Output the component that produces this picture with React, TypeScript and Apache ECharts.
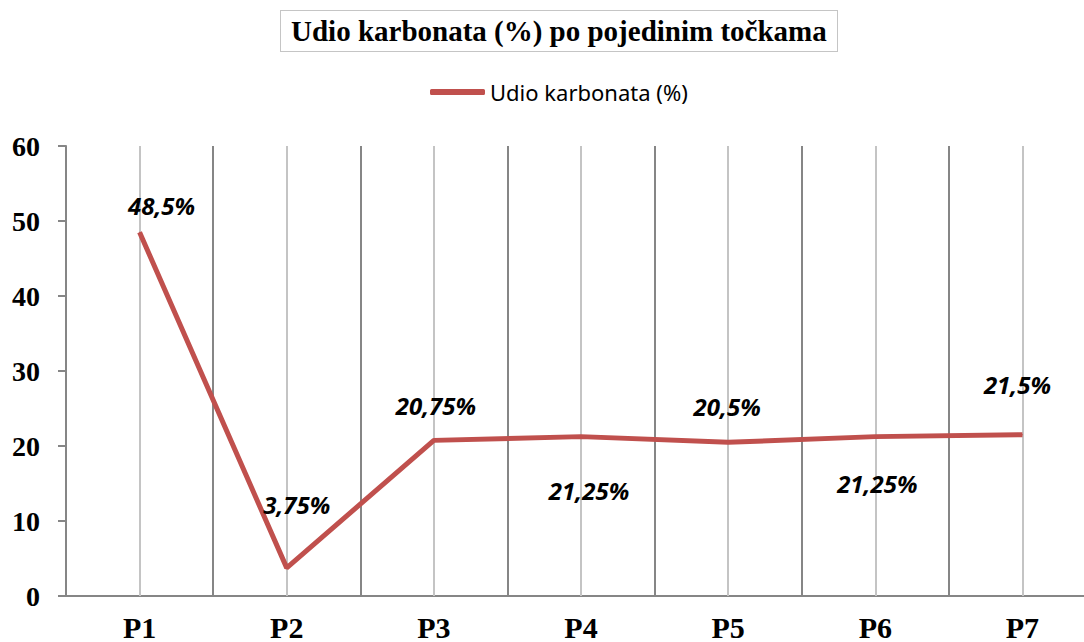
import React, { useEffect, useRef } from "react";
import * as echarts from "echarts";

const categories = ["P1", "P2", "P3", "P4", "P5", "P6", "P7"];
const values = [48.5, 3.75, 20.75, 21.25, 20.5, 21.25, 21.5];
const labelOffsets: [number, number][] = [
  [22, -27],
  [10, -63],
  [2, -35],
  [8, 54],
  [-1, -36],
  [2, 47],
  [-5, -50],
];
const seriesName = "Udio karbonata (%)";
const titleText = "Udio karbonata (%) po pojedinim točkama";

export default function App() {
  const ref = useRef<HTMLDivElement>(null);
  useEffect(() => {
    if (!ref.current) return;
    const chart = echarts.init(ref.current, null, { renderer: "svg" });
    const serif = "'Liberation Serif', 'Times New Roman', serif";
    const sans = "'Noto Sans', 'Open Sans', sans-serif";
    chart.setOption({
      animation: false,
      backgroundColor: "#ffffff",
      title: {
        text: titleText,
        left: 280,
        top: 10,
        padding: [6, 11, 6, 11],
        borderColor: "#8a8a8a",
        borderWidth: 1,
        borderType: "dotted",
        textStyle: {
          fontFamily: serif,
          fontWeight: "bold",
          fontSize: 29,
          color: "#000",
          lineHeight: 30,
        },
      },
      legend: {
        data: [{ name: seriesName, icon: "roundRect" }],
        left: 430,
        top: 81,
        padding: 0,
        itemWidth: 55,
        itemHeight: 6,
        textStyle: { fontFamily: sans, fontSize: 22, color: "#000" },
      },
      grid: { left: 66, top: 146, bottom: 46, right: 0, containLabel: false },
      xAxis: {
        type: "category",
        data: categories,
        boundaryGap: true,
        axisLine: { show: true, lineStyle: { color: "#868686", width: 2 } },
        axisTick: { show: false },
        splitLine: { show: true, interval: 0, lineStyle: { color: "#868686", width: 2 } },
        axisLabel: {
          interval: 0,
          margin: 16,
          fontFamily: serif,
          fontWeight: "bold",
          fontSize: 30,
          color: "#000",
        },
      },
      yAxis: {
        type: "value",
        min: 0,
        max: 60,
        interval: 10,
        axisLine: { show: true, lineStyle: { color: "#868686", width: 2 } },
        axisTick: { show: true, length: 8, lineStyle: { color: "#868686", width: 2 } },
        splitLine: { show: false },
        axisLabel: {
          margin: 26,
          fontFamily: serif,
          fontWeight: "bold",
          fontSize: 28,
          color: "#000",
        },
      },
      series: [
        {
          name: "grid-centers",
          type: "line",
          data: values,
          z: 1,
          symbol: "none",
          lineStyle: { opacity: 0 },
          silent: true,
          markLine: {
            silent: true,
            symbol: ["none", "none"],
            label: { show: false },
            lineStyle: { color: "#c4c4c4", width: 2, type: "solid" },
            data: categories.map((c) => ({ xAxis: c })),
          },
        },
        {
          name: seriesName,
          type: "line",
          data: values.map((v, i) => ({
            value: v,
            label: { offset: labelOffsets[i] },
          })),
          z: 5,
          symbol: "circle",
          symbolSize: 1,
          showSymbol: true,
          itemStyle: { color: "#C0504D" },
          lineStyle: { color: "#C0504D", width: 5 },
          label: {
            show: true,
            position: "inside",
            formatter: (p: any) => String(p.value).replace(".", ",") + "%",
            fontFamily: sans,
            fontWeight: "bold",
            fontStyle: "italic",
            fontSize: 24,
            color: "#000",
          },
        },
      ],
    });
    return () => chart.dispose();
  }, []);
  return (
    <div
      ref={ref}
      style={{ position: "fixed", left: 0, top: 0, width: 1096, height: 642 }}
    />
  );
}
